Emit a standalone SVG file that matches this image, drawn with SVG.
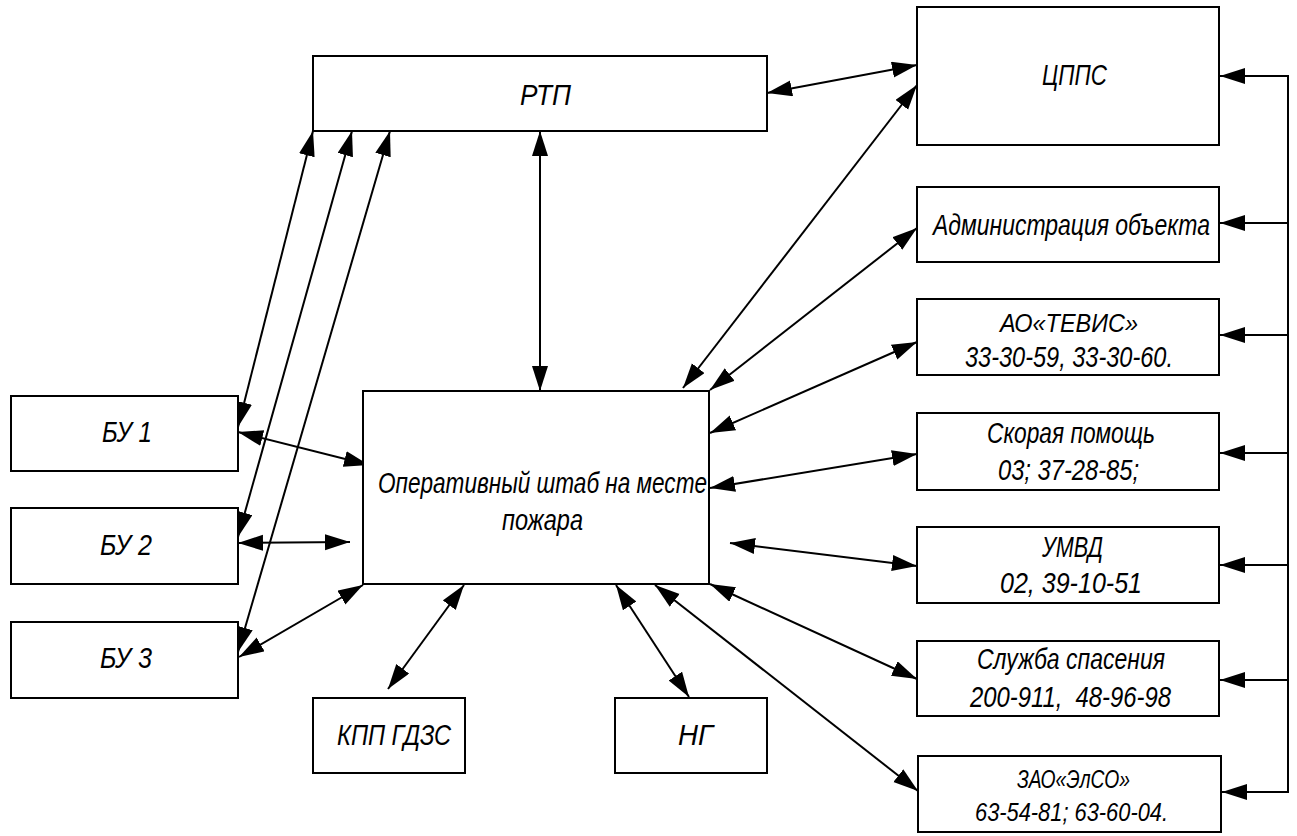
<svg xmlns="http://www.w3.org/2000/svg" width="1297" height="836" viewBox="0 0 1297 836">
<style>
.box{fill:#fff;stroke:#000;stroke-width:2}
.t{font-family:"Liberation Sans",Arial,sans-serif;font-style:italic;font-size:30px;fill:#000}
.s{font-size:25px}
.c{fill:none;stroke:#000;stroke-width:2}
.bi{marker-start:url(#ah);marker-end:url(#ah)}
.one{marker-end:url(#ah)}
</style>
<defs>
<marker id="ah" markerUnits="userSpaceOnUse" markerWidth="26" markerHeight="18" refX="25" refY="8" orient="auto-start-reverse" viewBox="0 0 26 18">
<path d="M0,0 L25,8 L0,16 z" fill="#000"/>
</marker>
</defs>
<rect width="1297" height="836" fill="#fff"/>
<g id="connectors">
<line class="c bi" x1="767" y1="93" x2="917" y2="65"/>
<line class="c bi" x1="540" y1="131" x2="540" y2="391"/>
<line class="c bi" x1="313" y1="131" x2="238" y2="427"/>
<line class="c bi" x1="352" y1="131" x2="238" y2="537"/>
<line class="c bi" x1="390" y1="131" x2="238" y2="652"/>
<line class="c bi" x1="238" y1="432" x2="369" y2="465"/>
<line class="c bi" x1="238" y1="543" x2="350" y2="542"/>
<line class="c bi" x1="239" y1="657" x2="363" y2="585"/>
<line class="c bi" x1="464" y1="585" x2="388" y2="689"/>
<line class="c bi" x1="616" y1="585" x2="689" y2="697"/>
<line class="c bi" x1="655" y1="585" x2="918" y2="791"/>
<line class="c bi" x1="710" y1="584" x2="917" y2="679"/>
<line class="c bi" x1="730" y1="543" x2="917" y2="566"/>
<line class="c bi" x1="710" y1="488" x2="917" y2="454"/>
<line class="c bi" x1="710" y1="433" x2="917" y2="342"/>
<line class="c bi" x1="710" y1="390" x2="917" y2="228"/>
<line class="c bi" x1="683" y1="388" x2="917" y2="85"/>
<line class="c" x1="1288" y1="75" x2="1288" y2="793"/>
<line class="c one" x1="1288" y1="76" x2="1220" y2="76"/>
<line class="c one" x1="1288" y1="223" x2="1220" y2="223"/>
<line class="c one" x1="1288" y1="335" x2="1220" y2="335"/>
<line class="c one" x1="1288" y1="453" x2="1220" y2="453"/>
<line class="c one" x1="1288" y1="565" x2="1220" y2="565"/>
<line class="c one" x1="1288" y1="680" x2="1220" y2="680"/>
<line class="c one" x1="1288" y1="792" x2="1222" y2="792"/>
</g>
<g id="rtp"><rect class="box" x="313" y="56" width="454" height="75"/><text class="t" x="520" y="105" textLength="51" lengthAdjust="spacingAndGlyphs">РТП</text></g>
<g id="cpps"><rect class="box" x="917" y="7" width="302" height="138"/><text class="t" x="1042" y="85" textLength="65" lengthAdjust="spacingAndGlyphs">ЦППС</text></g>
<g id="admin"><rect class="box" x="917" y="187" width="302" height="75"/><text class="t" x="933" y="235" textLength="277" lengthAdjust="spacingAndGlyphs">Администрация объекта</text></g>
<g id="tevis"><rect class="box" x="917" y="299" width="302" height="76"/><text class="t" x="1000" y="332" textLength="138" lengthAdjust="spacingAndGlyphs" style="font-size:26px">АО«ТЕВИС»</text><text class="t" x="965" y="367" textLength="208" lengthAdjust="spacingAndGlyphs">33-30-59, 33-30-60.</text></g>
<g id="skoraya"><rect class="box" x="917" y="413" width="302" height="77"/><text class="t" x="987" y="443" textLength="168" lengthAdjust="spacingAndGlyphs">Скорая помощь</text><text class="t" x="998" y="480" textLength="141" lengthAdjust="spacingAndGlyphs">03; 37-28-85;</text></g>
<g id="umvd"><rect class="box" x="917" y="527" width="302" height="76"/><text class="t" x="1042" y="557" textLength="61" lengthAdjust="spacingAndGlyphs">УМВД</text><text class="t" x="1000" y="593" textLength="142" lengthAdjust="spacingAndGlyphs">02, 39-10-51</text></g>
<g id="spasenie"><rect class="box" x="917" y="641" width="302" height="75"/><text class="t" x="977" y="669" textLength="188" lengthAdjust="spacingAndGlyphs">Служба спасения</text><text class="t" x="970" y="707" textLength="201" lengthAdjust="spacingAndGlyphs">200-911,&#160; 48-96-98</text></g>
<g id="elso"><rect class="box" x="918" y="756" width="303" height="76"/><text class="t s" x="1017" y="788" textLength="113" lengthAdjust="spacingAndGlyphs">ЗАО«ЭлСО»</text><text class="t s" x="975" y="821" textLength="193" lengthAdjust="spacingAndGlyphs">63-54-81; 63-60-04.</text></g>
<g id="shtab"><rect class="box" x="363" y="391" width="346" height="193"/><text class="t" x="378" y="493" textLength="329" lengthAdjust="spacingAndGlyphs">Оперативный штаб на месте</text><text class="t" x="502" y="530" textLength="81" lengthAdjust="spacingAndGlyphs">пожара</text></g>
<g id="bu1"><rect class="box" x="11" y="396" width="227" height="75"/><text class="t" x="102" y="442" textLength="50" lengthAdjust="spacingAndGlyphs">БУ 1</text></g>
<g id="bu2"><rect class="box" x="11" y="508" width="227" height="76"/><text class="t" x="100" y="555" textLength="52" lengthAdjust="spacingAndGlyphs">БУ 2</text></g>
<g id="bu3"><rect class="box" x="11" y="622" width="227" height="76"/><text class="t" x="100" y="668" textLength="52" lengthAdjust="spacingAndGlyphs">БУ 3</text></g>
<g id="kpp"><rect class="box" x="313" y="698" width="152" height="75"/><text class="t" x="337" y="745" textLength="114" lengthAdjust="spacingAndGlyphs">КПП ГДЗС</text></g>
<g id="ng"><rect class="box" x="615" y="698" width="152" height="75"/><text class="t" x="678" y="745" textLength="35" lengthAdjust="spacingAndGlyphs">НГ</text></g>
</svg>
